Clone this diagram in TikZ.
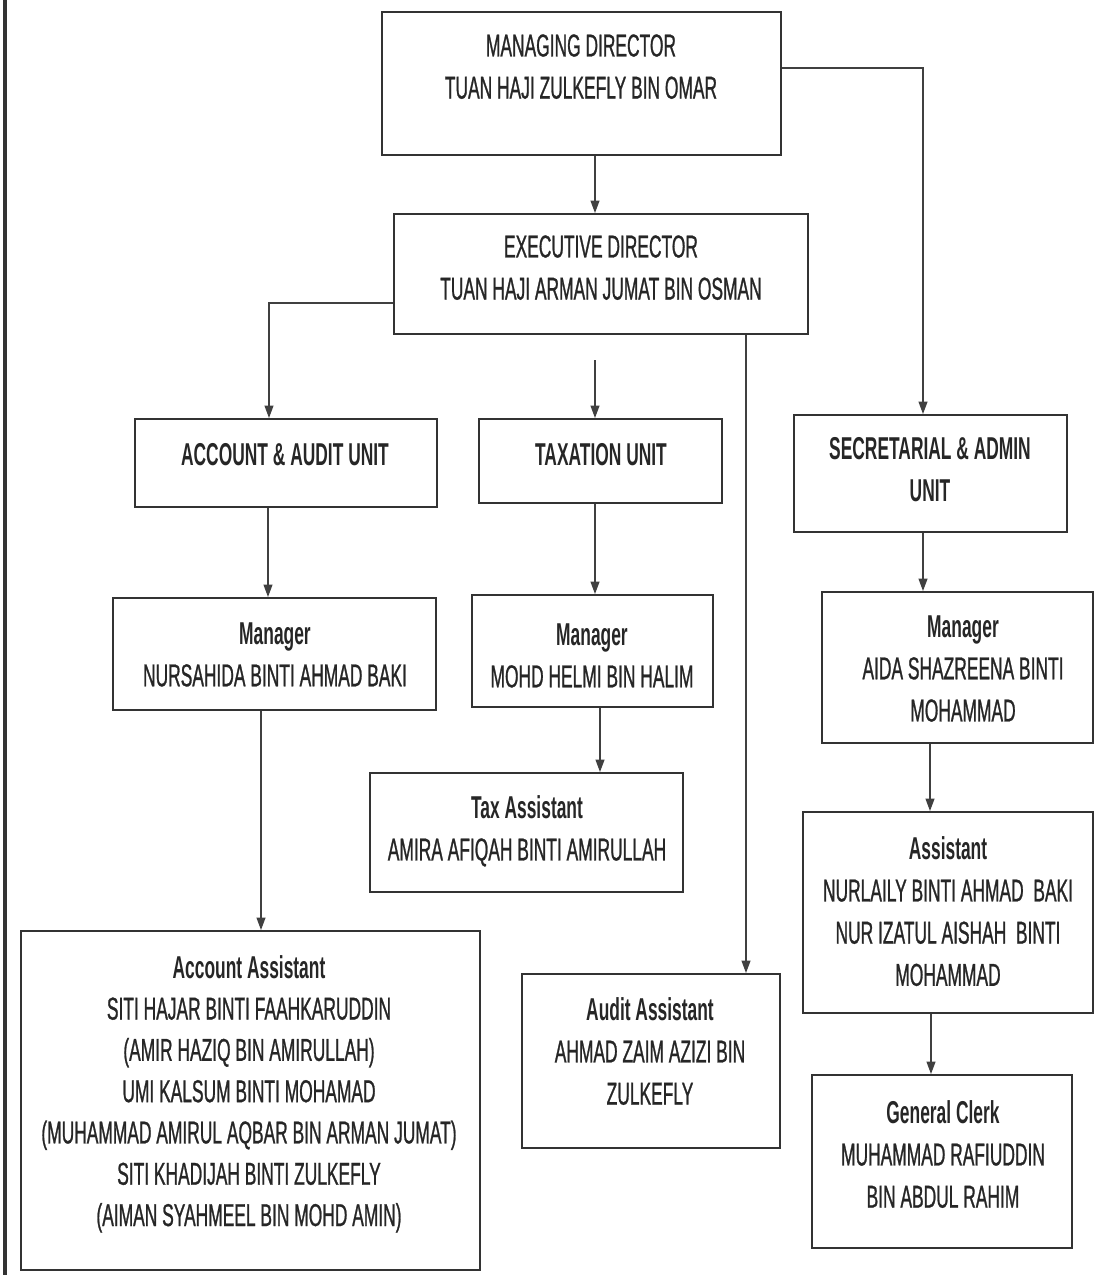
\documentclass[tikz,border=0pt]{standalone}
\usepackage{fontspec}
\setmainfont{Liberation Sans}[FakeStretch=0.55, UprightFeatures={FakeBold=0.8}]
\usetikzlibrary{arrows.meta, fit, positioning}

\begin{document}
\begin{tikzpicture}[x=0.02cm, y=-0.02cm,
    box/.style={draw=black!80, line width=1.1pt, inner sep=0pt},
    txt/.style={anchor=north, align=center, inner sep=0pt, text=black!85,
                font=\fontsize{18}{24}\selectfont},
    link/.style={draw=black!75, line width=0.8pt, -{Triangle[length=7pt,width=5pt]}}]
    \useasboundingbox (0,0) rectangle (1095,1275);

    % left page edge
    \draw[line width=2.5pt, black!80] (5,0) -- (5,1275);

    % directors
    \node[box, fit={(382,12) (781,155)}] (md) {};
    \node[txt] (mdtext) at (581,34) {MANAGING DIRECTOR\\TUAN HAJI ZULKEFLY BIN OMAR};
    \node[box, fit={(394,214) (808,334)}] (ed) {};
    \node[txt] (edtext) at (601,235) {EXECUTIVE DIRECTOR\\TUAN HAJI ARMAN JUMAT BIN OSMAN};

    % units
    \node[box, fit={(135,419) (437,507)}] (aau) {};
    \node[txt, font=\fontsize{18}{24}\selectfont\bfseries] (aautext) at (285,443) {ACCOUNT \& AUDIT UNIT};
    \node[box, fit={(479,419) (722,503)}] (tax) {};
    \node[txt, font=\fontsize{18}{24}\selectfont\bfseries] (taxtext) at (601,443) {TAXATION UNIT};
    \node[box, fit={(794,415) (1067,532)}] (sec) {};
    \node[txt, font=\fontsize{18}{24}\selectfont\bfseries] (sectext) at (930,437) {SECRETARIAL \& ADMIN\\UNIT};

    % managers
    \node[box, fit={(113,598) (436,710)}] (mgra) {};
    \node[txt] (mgratext) at (275,622) {\textbf{Manager}\\NURSAHIDA BINTI AHMAD BAKI};
    \node[box, fit={(472,595) (713,707)}] (mgrt) {};
    \node[txt] (mgrttext) at (592,623) {\textbf{Manager}\\MOHD HELMI BIN HALIM};
    \node[box, fit={(822,592) (1093,743)}] (mgrs) {};
    \node[txt] (mgrstext) at (963,615) {\textbf{Manager}\\AIDA SHAZREENA BINTI\\MOHAMMAD};

    % assistants and clerk
    \node[box, fit={(370,773) (683,892)}] (taxa) {};
    \node[txt] (taxatext) at (527,795) {\textbf{Tax Assistant}\\AMIRA AFIQAH BINTI AMIRULLAH};
    \node[box, fit={(803,812) (1093,1013)}] (asst) {};
    \node[txt] (assttext) at (948,836) {\textbf{Assistant}\\NURLAILY BINTI AHMAD\ \ BAKI\\NUR IZATUL AISHAH\ \ BINTI\\MOHAMMAD};
    \node[box, fit={(522,974) (780,1148)}] (audit) {};
    \node[txt] (audittext) at (650,997) {\textbf{Audit Assistant}\\AHMAD ZAIM AZIZI BIN\\ZULKEFLY};
    \node[box, fit={(812,1075) (1072,1248)}] (gc) {};
    \node[txt] (gctext) at (943,1100) {\textbf{General Clerk}\\MUHAMMAD RAFIUDDIN\\BIN ABDUL RAHIM};
    \node[box, fit={(21,931) (480,1270)}] (acca) {};
    \node[txt, font=\fontsize{18}{23.5}\selectfont] (accatext) at (249,955)
        {\textbf{Account Assistant}\\SITI HAJAR BINTI FAAHKARUDDIN\\(AMIR HAZIQ BIN AMIRULLAH)\\
         UMI KALSUM BINTI MOHAMAD\\(MUHAMMAD AMIRUL AQBAR BIN ARMAN JUMAT)\\
         SITI KHADIJAH BINTI ZULKEFLY\\(AIMAN SYAHMEEL BIN MOHD AMIN)};

    % connectors
    \draw[link] (md.south -| 595,0) -- (ed.north -| 595,0);
    \draw[link] (md.east |- 0,68) -| (sec.north -| 923,0);
    \draw[link] (ed.west |- 0,303) -| (aau.north -| 269,0);
    \coordinate (taxin) at (595,360);
    \draw[link] (taxin) -- (tax.north -| taxin);
    \draw[link] (ed.south -| 746,0) -- (audit.north -| 746,0);
    \draw[link] (aau.south -| 268,0) -- (mgra.north -| 268,0);
    \draw[link] (tax.south -| 595,0) -- (mgrt.north -| 595,0);
    \draw[link] (mgrt.south -| 600,0) -- (taxa.north -| 600,0);
    \draw[link] (mgra.south -| 261,0) -- (acca.north -| 261,0);
    \draw[link] (sec.south -| 923,0) -- (mgrs.north -| 923,0);
    \draw[link] (mgrs.south -| 930,0) -- (asst.north -| 930,0);
    \draw[link] (asst.south -| 931,0) -- (gc.north -| 931,0);
\end{tikzpicture}
\end{document}
